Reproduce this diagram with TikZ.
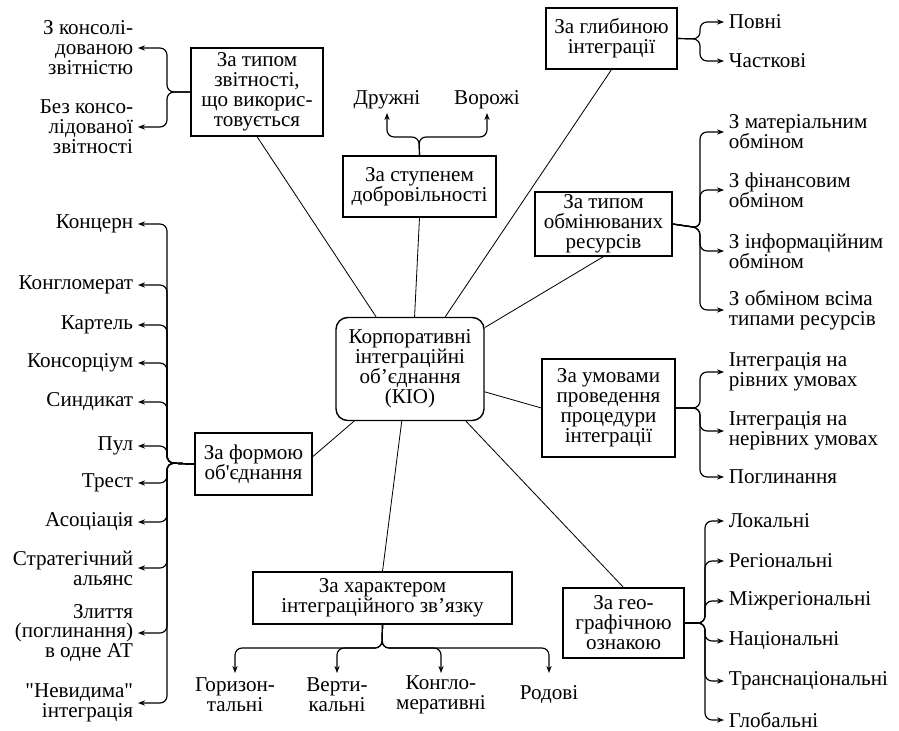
\documentclass[tikz,border=0pt]{standalone}
\usepackage{fontspec}
\setmainfont{Liberation Serif}[Ligatures=TeX]
\newfontfamily\kiofont{Liberation Serif}
\usepackage{tikz}
\usetikzlibrary{arrows.meta,positioning}

\begin{document}
\begin{tikzpicture}[
  x=0.03cm, y=-0.03cm,
  font=\kiofont\fontsize{18}{17}\selectfont,
  kiobox/.style={
    rectangle, draw, line width=1.2pt, rounded corners=10pt,
    minimum width=4.44cm, minimum height=3.09cm, align=center, inner sep=1pt
  },
  crit/.style={
    rectangle, draw, line width=1pt, align=center, inner sep=1pt
  },
  leafr/.style={anchor=west, align=left, inner xsep=4pt, inner ysep=0pt},
  leafl/.style={anchor=east, align=right, inner xsep=4pt, inner ysep=0pt},
  leafb/.style={anchor=north, align=center, inner sep=0pt, minimum height=1.3cm},
  link/.style={line width=0.7pt},
  brarr/.style={-{Stealth[length=6pt,width=4.5pt]}, line width=1pt, rounded corners=6pt},
]
  \useasboundingbox (0,0) rectangle (899,731);

  % Centre
  \node[kiobox] (kio) at (410,369) {Корпоративні\\інтеграційні\\об’єднання\\(КІО)};

  % Criteria boxes
  \node[crit, minimum width=3.96cm, minimum height=2.64cm] (zvit) at (257,92)
    {За типом\\звітності,\\що викорис-\\товується};
  \node[crit, minimum width=4.59cm, minimum height=1.83cm] (dobr) at (419.5,186.5)
    {За ступенем\\добровільності};
  \node[crit, minimum width=3.93cm, minimum height=1.83cm] (glyb) at (611.5,38.5)
    {За глибиною\\інтеграції};
  \node[crit, minimum width=4.11cm, minimum height=1.92cm] (resurs) at (603.5,224)
    {За типом\\обмінюваних\\ресурсів};
  \node[crit, minimum width=3.99cm, minimum height=2.94cm] (umovy) at (608.5,408)
    {За умовами\\проведення\\процедури\\інтеграції};
  \node[crit, minimum width=3.63cm, minimum height=2.1cm] (geo) at (623.5,623)
    {За гео-\\графічною\\ознакою};
  \node[crit, minimum width=7.77cm, minimum height=1.56cm] (harakter) at (382.5,598)
    {За характером\\інтеграційного зв’язку};
  \node[crit, minimum width=3.51cm, minimum height=1.86cm] (forma) at (253.5,464)
    {За формою\\об\textquotesingle єднання};

  % Links to the centre
  \draw[link] (kio.123) -- (zvit.south);
  \draw[link] (kio.85) -- (dobr.south);
  \draw[link] (kio.56) -- (glyb.south);
  \draw[link] (kio.29) -- (resurs.south);
  \draw[link] (kio.-17) -- (umovy.west);
  \draw[link] (kio.-43) -- (geo.north);
  \draw[link] (kio.-99) -- (harakter.north);
  \draw[link] (kio.223) -- (forma.7);

  % Brace junctions
  \coordinate (zb) at (167,92);
  \coordinate (db) at (419,137);
  \coordinate (gb) at (700,39);
  \coordinate (rb) at (700,228);
  \coordinate (ub) at (700,408);
  \coordinate (eb) at (705,623);
  \coordinate (hb) at (382,648);
  \coordinate (fb) at (167,463);

  % Leaves: reporting
  \node[leafl] (konsol) at (138,48) {З консолі-\\дованою\\звітністю};
  \node[leafl] (bezkons) at (138,127) {Без консо-\\лідованої\\звітності};

  % Leaves: voluntariness
  \node[anchor=south, inner sep=3pt] (druzh) at (387,113) {Дружні};
  \node[anchor=south, inner sep=3pt] (vorozh) at (487,113) {Ворожі};

  % Leaves: depth
  \node[leafr] (povni) at (724,22) {Повні};
  \node[leafr] (chastk) at (724,61) {Часткові};

  % Leaves: resources
  \node[leafr] (mater) at (724,132) {З матеріальним\\обміном};
  \node[leafr] (finans) at (724,190) {З фінансовим\\обміном};
  \node[leafr] (inform) at (724,251) {З інформаційним\\обміном};
  \node[leafr] (vsi) at (724,310) {З обміном всіма\\типами ресурсів};

  % Leaves: conditions
  \node[leafr] (rivni) at (724,372) {Інтеграція на\\рівних умовах};
  \node[leafr] (nerivni) at (724,431) {Інтеграція на\\нерівних умовах};
  \node[leafr] (poglyn) at (724,477) {Поглинання};

  % Leaves: geography
  \node[leafr] (lokal) at (724,521) {Локальні};
  \node[leafr] (region) at (724,561) {Регіональні};
  \node[leafr] (mizhreg) at (724,601) {Міжрегіональні};
  \node[leafr] (nats) at (724,641) {Національні};
  \node[leafr] (transn) at (724,681) {Транснаціональні};
  \node[leafr] (global) at (724,720) {Глобальні};

  % Leaves: kind of link
  \node[leafb] (horiz) at (235,673) {Горизон-\\тальні};
  \node[leafb] (vert) at (337,673) {Верти-\\кальні};
  \node[leafb] (konglo) at (441,673) {Конгло-\\меративні};
  \node[leafb] (rodovi) at (549,673) {Родові};

  % Leaves: form
  \node[leafl] (kontsern) at (138,224) {Концерн};
  \node[leafl] (konglom) at (138,285) {Конгломерат};
  \node[leafl] (kartel) at (138,325) {Картель};
  \node[leafl] (konsort) at (138,363) {Консорціум};
  \node[leafl] (syndyk) at (138,402) {Синдикат};
  \node[leafl] (pul) at (138,446) {Пул};
  \node[leafl] (trest) at (138,483) {Трест};
  \node[leafl] (asots) at (138,522) {Асоціація};
  \node[leafl] (strat) at (138,568) {Стратегічний\\альянс};
  \node[leafl] (zlyttia) at (138,633) {Злиття\\(поглинання)\\в одне АТ};
  \node[leafl] (nevyd) at (138,703) {\textquotedbl Невидима\textquotedbl\\інтеграція};

  % Braces
  \draw[brarr] (zvit.west) -- (zb) |- (konsol.east);
  \draw[brarr] (zvit.west) -- (zb) |- (bezkons.east);

  \draw[brarr] (dobr.north) -- (db) -| (druzh.south);
  \draw[brarr] (dobr.north) -- (db) -| (vorozh.south);

  \draw[brarr] (glyb.east) -- (gb) |- (povni.west);
  \draw[brarr] (glyb.east) -- (gb) |- (chastk.west);

  \draw[brarr] (resurs.east) -- (rb) |- (mater.west);
  \draw[brarr] (resurs.east) -- (rb) |- (finans.west);
  \draw[brarr] (resurs.east) -- (rb) |- (inform.west);
  \draw[brarr] (resurs.east) -- (rb) |- (vsi.west);

  \draw[brarr] (umovy.east) -- (ub) |- (rivni.west);
  \draw[brarr] (umovy.east) -- (ub) |- (nerivni.west);
  \draw[brarr] (umovy.east) -- (ub) |- (poglyn.west);

  \draw[brarr] (geo.east) -- (eb) |- (lokal.west);
  \draw[brarr] (geo.east) -- (eb) |- (region.west);
  \draw[brarr] (geo.east) -- (eb) |- (mizhreg.west);
  \draw[brarr] (geo.east) -- (eb) |- (nats.west);
  \draw[brarr] (geo.east) -- (eb) |- (transn.west);
  \draw[brarr] (geo.east) -- (eb) |- (global.west);

  \draw[brarr] (harakter.south) -- (hb) -| (horiz.north);
  \draw[brarr] (harakter.south) -- (hb) -| (vert.north);
  \draw[brarr] (harakter.south) -- (hb) -| (konglo.north);
  \draw[brarr] (harakter.south) -- (hb) -| (rodovi.north);

  \draw[brarr] (forma.west) -- (fb) |- (kontsern.east);
  \draw[brarr] (forma.west) -- (fb) |- (konglom.east);
  \draw[brarr] (forma.west) -- (fb) |- (kartel.east);
  \draw[brarr] (forma.west) -- (fb) |- (konsort.east);
  \draw[brarr] (forma.west) -- (fb) |- (syndyk.east);
  \draw[brarr] (forma.west) -- (fb) |- (pul.east);
  \draw[brarr] (forma.west) -- (fb) |- (trest.east);
  \draw[brarr] (forma.west) -- (fb) |- (asots.east);
  \draw[brarr] (forma.west) -- (fb) |- (strat.east);
  \draw[brarr] (forma.west) -- (fb) |- (zlyttia.east);
  \draw[brarr] (forma.west) -- (fb) |- (nevyd.east);
\end{tikzpicture}
\end{document}
